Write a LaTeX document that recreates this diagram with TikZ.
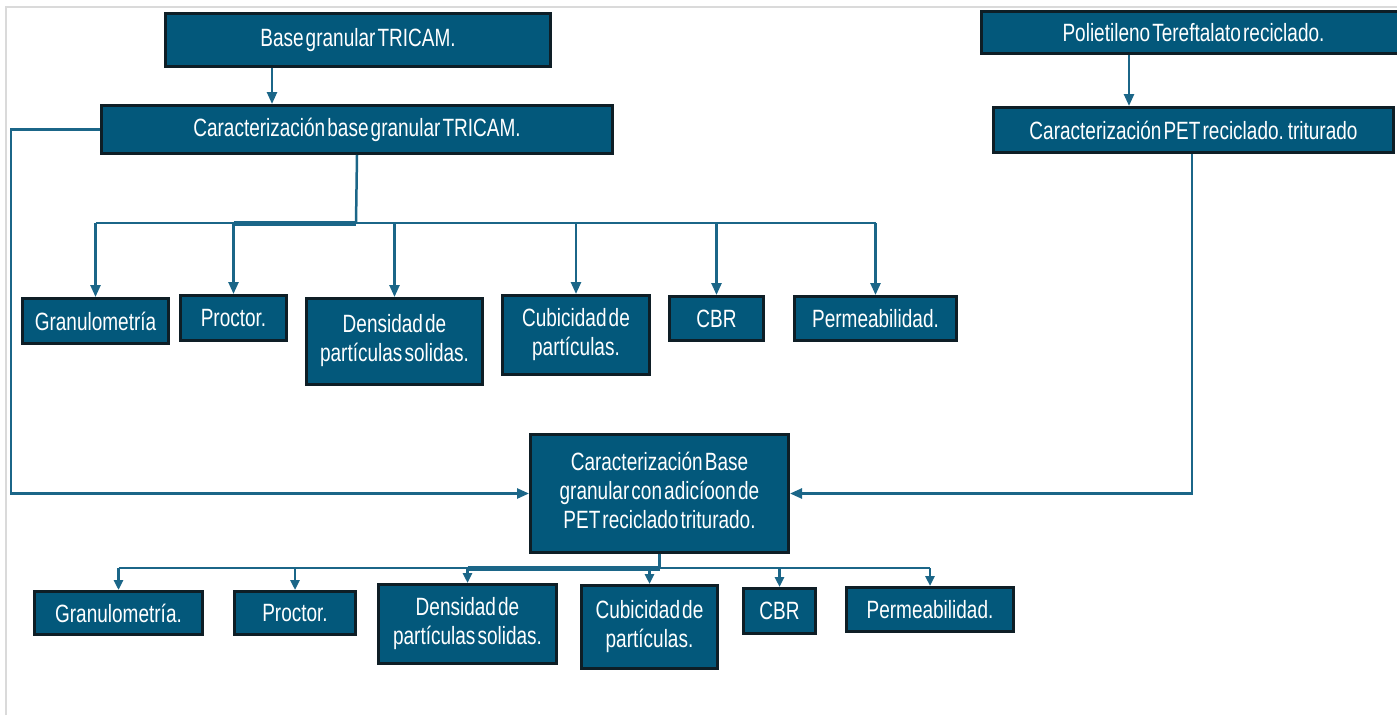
\documentclass[tikz,border=0pt]{standalone}
\usepackage{fontspec}
\setmainfont[FakeStretch=0.76,WordSpace=0.4]{Liberation Sans}
\usetikzlibrary{arrows.meta}
\definecolor{boxfill}{HTML}{03587B}
\definecolor{boxline}{HTML}{0E1E26}
\definecolor{wire}{HTML}{1B6688}
\definecolor{frame}{HTML}{DADADA}
\newcommand{\liftedlines}[2]{\raisebox{#1}{\begin{tabular}{@{}c@{}}#2\end{tabular}}}
\tikzset{
  box/.style={draw=boxline, fill=boxfill, line width=3pt, text=white, inner sep=0pt,
    align=center, anchor=north west, font=\fontsize{25}{29}\selectfont},
  wireline/.style={draw=wire, line width=2.5pt},
  arr/.style={wireline, -{Triangle[length=12pt,width=10pt]}},
  arrs/.style={wireline, -{Triangle[length=10pt,width=9pt]}}
}
\begin{document}
\begin{tikzpicture}[x=1pt,y=-1pt]
\useasboundingbox (0,0) rectangle (1397,715);
% frame
\draw[frame, line width=2pt] (6,715) -- (6,7) -- (1397,7);
% top boxes
\node[box, minimum width=385pt, minimum height=53pt] (b1) at (164,12) {Base granular TRICAM.};
\node[box, minimum width=511pt, minimum height=48pt] (b2) at (100,104) {Caracterización base granular TRICAM.};
\node[box, minimum width=424pt, minimum height=42pt] (p1) at (980,10) {Polietileno Tereftalato reciclado.};
\node[box, minimum width=400pt, minimum height=45pt] (p2) at (992,106) {Caracterización PET reciclado. triturado};
% row 1
\node[box, minimum width=146pt, minimum height=45pt] (g1) at (21,297) {Granulometría};
\node[box, minimum width=106pt, minimum height=45pt] (g2) at (179,294) {Proctor.};
\node[box, minimum width=176pt, minimum height=86pt] (g3) at (305,297) {\liftedlines{5pt}{Densidad de\\partículas solidas.}};
\node[box, minimum width=147pt, minimum height=79pt] (g4) at (501,294) {Cubicidad de\\partículas.};
\node[box, minimum width=94pt, minimum height=44pt] (g5) at (668,295) {CBR};
\node[box, minimum width=162pt, minimum height=44pt] (g6) at (793,295) {Permeabilidad.};
% center
\node[box, minimum width=258pt, minimum height=118pt] (c) at (529,433) {\liftedlines{6pt}{Caracterización Base\\granular con adicíoon de\\PET reciclado triturado.}};
% row 2
\node[box, minimum width=168pt, minimum height=43pt] (h1) at (33,590) {Granulometría.};
\node[box, minimum width=121pt, minimum height=43pt] (h2) at (233,590) {Proctor.};
\node[box, minimum width=178pt, minimum height=79pt] (h3) at (377,583) {Densidad de\\partículas solidas.};
\node[box, minimum width=136pt, minimum height=83pt] (h4) at (580,584) {Cubicidad de\\partículas.};
\node[box, minimum width=72pt, minimum height=45pt] (h5) at (742,587) {CBR};
\node[box, minimum width=167pt, minimum height=44pt] (h6) at (845,586) {Permeabilidad.};
% connectors top
\draw[arr] (272,0 |- b1.south) -- (272,0 |- b2.north);
\draw[arr] (1129,0 |- p1.south) -- (1129,0 |- p2.north);
\draw[arr] (b2.west) -- (b2.west -| 11,0) -- (11,0 |- c.west) -- (c.west);
\draw[arr] (1192,0 |- p2.south) -- (1192,0 |- c.east) -- (c.east);
% bus 1
\coordinate (bus1) at (356,223);
\draw[wireline] (b2.south) -- (bus1);
\draw[wireline] (g1.north |- bus1) -- (g6.north |- bus1);
\draw[draw=wire, line width=5pt] (g2.north |- bus1) -- (bus1);
\foreach \n in {g1,g2,g3,g4,g5,g6} \draw[arr] (\n.north |- bus1) -- (\n.north);
% bus 2
\coordinate (bus2) at (658,568);
\draw[wireline] (c.south) -- (c.south |- bus2);
\draw[wireline] (h1.north |- bus2) -- (h6.north |- bus2);
\draw[draw=wire, line width=5pt] (h3.north |- bus2) -- (c.south |- bus2);
\foreach \n in {h1,h2,h3,h4,h5,h6} \draw[arrs] (\n.north |- bus2) -- (\n.north);
\end{tikzpicture}
\end{document}
